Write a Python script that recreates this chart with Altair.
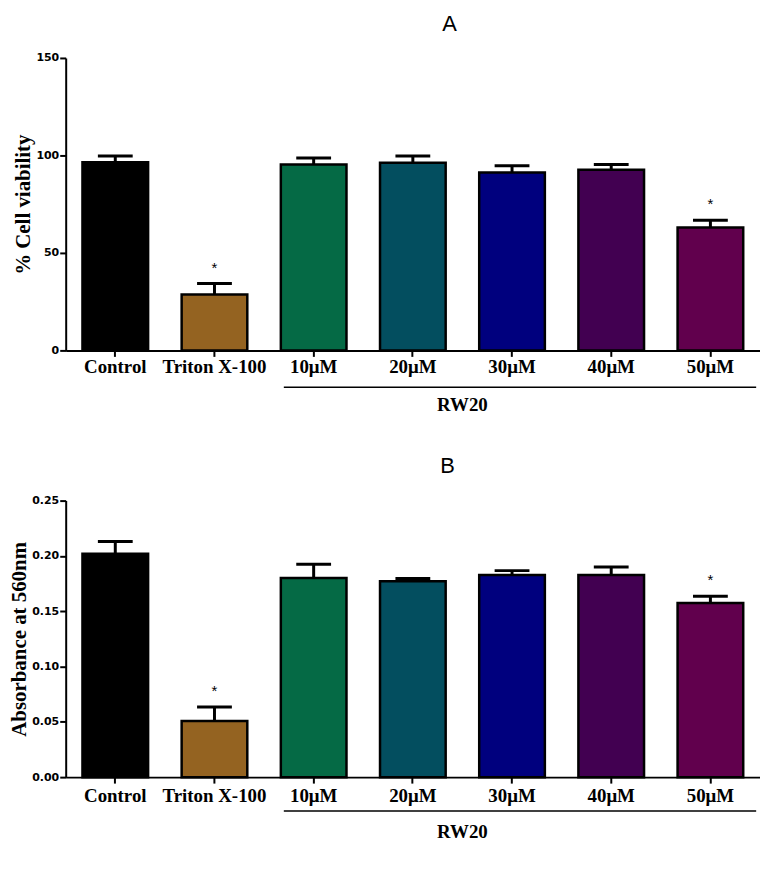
import altair as alt
import pandas as pd

groups = ["Control", "Triton X-100", "10μM", "20μM", "30μM", "40μM", "50μM"]
colors = ["#000000", "#946321", "#056A45", "#034E5F", "#00007E", "#420051", "#61004D"]
viability_mean = [96.5, 28.7, 95.3, 96.2, 91.3, 92.7, 63.0]
viability_err = [3.2, 5.6, 3.4, 3.5, 3.4, 2.6, 3.7]
absorb_mean = [0.202, 0.0507, 0.180, 0.177, 0.1827, 0.1827, 0.1575]
absorb_err = [0.011, 0.0126, 0.0124, 0.0025, 0.004, 0.0073, 0.006]
signif = ["", "*", "", "", "", "", "*"]
bracket_start = ["10μM"]
bracket_end = ["50μM"]
bracket_mid = ["20μM"]
bracket_label = ["RW20"]

SERIF = "Liberation Serif"
TICKFONT = "DejaVu Sans"


def panel(mean, err, ytitle, ydomain, yticks, yfmt,
          title, title_x, title_y, width, height, xlabel_pad, rule_y, text_y):
    df = pd.DataFrame({
        "group": groups,
        "mean": mean,
        "upper": [m + e for m, e in zip(mean, err)],
        "sig": signif,
        "color": colors,
    })
    xscale = alt.Scale(domain=groups, paddingInner=0, paddingOuter=0)
    xaxis = alt.Axis(
        title=None, labelAngle=0, labelFont=SERIF, labelFontWeight="bold",
        labelFontSize=19, labelColor="black", labelPadding=xlabel_pad,
        tickSize=6, tickWidth=2, tickColor="black", domainWidth=2,
        domainColor="black", labelOverlap=False, labelFlush=False, grid=False,
    )
    yscale = alt.Scale(domain=ydomain, nice=False, zero=True)
    yaxis = alt.Axis(
        title=ytitle, titleFont=SERIF, titleFontWeight="bold",
        titleFontSize=21, titleColor="black", titlePadding=2,
        values=yticks, format=yfmt, labelFont=TICKFONT, labelFontWeight="bold",
        labelFontSize=11, labelColor="black", labelPadding=1,
        tickSize=6, tickWidth=2, tickColor="black", domainWidth=2,
        domainColor="black", grid=False,
    )
    X = alt.X("group:N", scale=xscale, axis=xaxis)
    base = alt.Chart(df)
    errline = base.mark_rule(color="black", strokeWidth=3).encode(
        x=X,
        y=alt.Y("mean:Q", scale=yscale, axis=yaxis, title=ytitle),
        y2="upper:Q",
    )
    cap = base.mark_tick(color="black", size=35, thickness=3, opacity=1).encode(
        x=X, y=alt.Y("upper:Q", scale=yscale, title=ytitle),
    )
    bars = base.mark_bar(size=66, stroke="black", strokeWidth=2.5, opacity=1).encode(
        x=X,
        y=alt.Y("mean:Q", scale=yscale, axis=yaxis, title=ytitle),
        color=alt.Color("color:N", scale=None, legend=None),
    )
    stars = base.mark_text(font="Liberation Sans", fontSize=15,
                           baseline="alphabetic", dy=-11, color="black").encode(
        x=X, y=alt.Y("upper:Q", scale=yscale, title=ytitle), text="sig:N",
    )
    bdf = pd.DataFrame({"start": bracket_start, "end": bracket_end,
                        "mid": bracket_mid, "label": bracket_label})
    brule = alt.Chart(bdf).mark_rule(color="black", strokeWidth=1.5,
                                     xOffset=-30, x2Offset=46).encode(
        x=alt.X("start:N", scale=xscale, axis=xaxis),
        x2="end:N",
        y=alt.value(rule_y),
    )
    btext = alt.Chart(bdf).mark_text(font=SERIF, fontWeight="bold", fontSize=19,
                                     baseline="alphabetic", color="black").encode(
        x=alt.X("mid:N", scale=xscale, axis=xaxis, bandPosition=1),
        y=alt.value(text_y),
        text="label:N",
    )
    tdf = pd.DataFrame({"t": [title]})
    ttext = alt.Chart(tdf).mark_text(font="Liberation Sans", fontSize=22,
                                     baseline="top", color="black").encode(
        x=alt.value(title_x), y=alt.value(title_y), text="t:N",
    )
    return alt.layer(errline, cap, bars, stars, brule, btext, ttext).properties(
        width=width, height=height,
    )


A = panel(viability_mean, viability_err, "% Cell viability", [0, 150],
          [0, 50, 100, 150], "d", "A", 386, -44, 698, 294, 1.5, 331, 355)
B = panel(absorb_mean, absorb_err, "Absorbance at 560nm", [0, 0.25],
          [0, 0.05, 0.10, 0.15, 0.20, 0.25], ".2f", "B", 384, -45, 698, 278,
          4, 312, 339)

chart = alt.vconcat(A, B, spacing=40).properties(
    padding={"top": 3, "left": 0, "right": 0, "bottom": 0}, background="white"
).configure_view(stroke=None)

chart.save("out.html", embed_options={"renderer": "svg", "actions": False})
